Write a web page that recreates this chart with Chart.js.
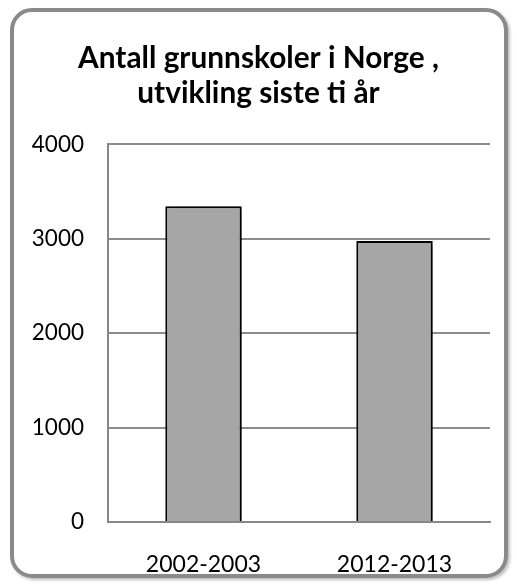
<!DOCTYPE html>
<html><head><meta charset="utf-8">
<script src="https://cdn.jsdelivr.net/npm/chart.js@4/dist/chart.umd.min.js"></script>
<style>
html,body{margin:0;padding:0;background:#fff;}
#wrap{position:relative;width:517px;height:584px;}
#frame{position:absolute;left:10px;top:8px;width:490px;height:562px;border:4px solid #8a8a8a;border-radius:22px;box-shadow:2px 2px 3px rgba(0,0,0,0.25);}
canvas{position:absolute;left:0;top:0;}
</style></head>
<body><div id="wrap"><div id="frame"></div><canvas id="c" width="517" height="584"></canvas></div>
<script>
const categories = ["2002-2003", "2012-2013"];
const schools = [3345, 2975];
const titleLines = ["Antall grunnskoler i Norge ,", "utvikling siste ti år"];
const yMin = 0, yMax = 4000, yStep = 1000;

const shadowPlugin = {
  id: 'barShadow',
  beforeDatasetDraw(chart){ const c = chart.ctx; c.save(); c.shadowColor='rgba(0,0,0,0.45)'; c.shadowBlur=6; c.shadowOffsetX=4; c.shadowOffsetY=2; },
  afterDatasetDraw(chart){ chart.ctx.restore(); }
};

new Chart(document.getElementById('c'), {
  type: 'bar',
  data: { labels: categories, datasets: [{ data: schools, backgroundColor: '#a6a6a6', borderColor: '#000', borderWidth: 2, barPercentage: 0.4, categoryPercentage: 1 }] },
  options: {
    responsive: false, animation: false,
    layout: { padding: { left: 27, right: 27, top: 0, bottom: 0 } },
    plugins: {
      legend: { display: false }, tooltip: { enabled: false },
      title: { display: true, text: titleLines, color: '#000', font: { family: 'Lato', size: 29.8, weight: 'bold', lineHeight: 1.18 }, padding: { top: 41, bottom: 33 } }
    },
    scales: {
      x: { grid: { display: false }, border: { color: '#888', width: 2 },
           ticks: { color: '#000', font: { family: 'Lato', size: 23 }, padding: 21 },
           afterFit(s){ s.height = 62; } },
      y: { min: yMin, max: yMax,
           ticks: { stepSize: yStep, color: '#000', font: { family: 'Lato', size: 22.5 }, padding: 24, callback: v => String(v) },
           grid: { color: '#8c8c8c', lineWidth: 2, drawTicks: false }, border: { color: '#888', width: 2 },
           afterFit(s){ s.width = 81; } }
    }
  },
  plugins: [shadowPlugin]
});
</script></body></html>
